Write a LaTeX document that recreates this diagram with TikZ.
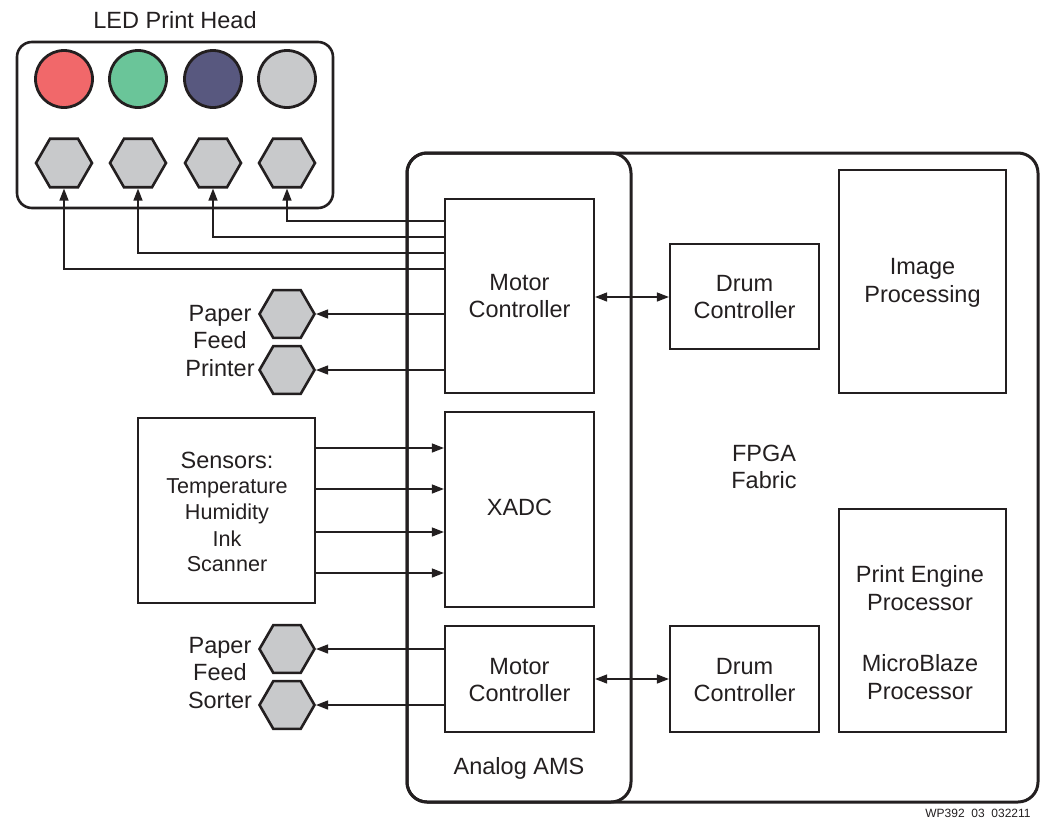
\documentclass[tikz,border=0pt]{standalone}
\usepackage{fontspec}
\setmainfont{Liberation Sans}
\usetikzlibrary{shapes.geometric,arrows.meta}
\definecolor{ln}{HTML}{231F20}
\definecolor{ledred}{HTML}{F1686A}
\definecolor{ledgreen}{HTML}{6AC599}
\definecolor{ledblue}{HTML}{58587F}
\definecolor{ledgray}{HTML}{C8C9CB}
\begin{document}
\begin{tikzpicture}[x=1pt,y=-1pt,
  txt/.style={align=center,text=ln,font=\fontsize{23.5}{27.5}\selectfont,inner sep=0pt},
  box/.style={draw=ln,line width=2.2pt,inner sep=0pt},
  frame/.style={draw=ln,line width=3pt,rounded corners=20pt},
  led/.style={circle,draw=ln,line width=2.8pt,minimum size=57pt,inner sep=0pt},
  hexa/.style={regular polygon,regular polygon sides=6,draw=ln,line width=2.6pt,fill=ledgray,minimum size=56pt,inner sep=0pt},
  conn/.style={draw=ln,line width=1.3pt},
  arr/.style={conn,-{Triangle[length=12pt,width=9pt]}},
  darr/.style={conn,{Triangle[length=12pt,width=9pt]}-{Triangle[length=12pt,width=9pt]}}
]
\useasboundingbox (0,0) rectangle (1042,825);

% LED print head
\node[txt] (ledlabel) at (175,20) {LED Print Head};
\draw[frame,line width=2.6pt,rounded corners=15pt] (17,42) rectangle (333,208);
\node[led,fill=ledred] (c1) at (64,79) {};
\node[led,fill=ledgreen] (c2) at (138,79) {};
\node[led,fill=ledblue] (c3) at (213,79) {};
\node[led,fill=ledgray] (c4) at (287,79) {};
\node[hexa] (h1) at (64,163) {};
\node[hexa] (h2) at (138,163) {};
\node[hexa] (h3) at (213,163) {};
\node[hexa] (h4) at (287,163) {};

% FPGA frame and analog frame
\draw[frame] (407,153) rectangle (1038,802);
\node[txt] (fpga) at (764,467) {FPGA\\Fabric};
\draw[frame] (407,153) rectangle (631,802);
\node[txt] (ams) at (519,768) {Analog AMS};

% blocks
\node[box,minimum width=149pt,minimum height=194pt] (mc1) at (519.5,296) {};
\node[txt] at (mc1.center) {Motor\\Controller};
\node[box,minimum width=149pt,minimum height=195pt] (xadc) at (519.5,509.5) {};
\node[txt] at (519.5,507) {XADC};
\node[box,minimum width=149pt,minimum height=106pt] (mc2) at (519.5,679) {};
\node[txt] at (519.5,680) {Motor\\Controller};
\node[box,minimum width=149pt,minimum height=105pt] (dc1) at (744.5,296.5) {};
\node[txt] at (744.5,297) {Drum\\Controller};
\node[box,minimum width=149pt,minimum height=106pt] (dc2) at (744.5,679) {};
\node[txt] at (744.5,680) {Drum\\Controller};
\node[box,minimum width=167pt,minimum height=223pt] (ip) at (922.5,281.5) {};
\node[txt] at (922.5,283) {Image\\Processing};
\node[box,minimum width=167pt,minimum height=223pt] (pe) at (922.5,620.5) {};
\node[txt,font=\fontsize{23.5}{28}\selectfont] at (920,633) {Print Engine\\Processor\\[33pt]MicroBlaze\\Processor};

% sensors
\node[box,minimum width=177pt,minimum height=185pt] (sens) at (226.5,510.5) {};
\node[txt] (senstxt) at (227,512) {Sensors:\\[-3pt]{\fontsize{21.6}{25}\selectfont Temperature}\\[-1pt]{\fontsize{21.6}{25}\selectfont Humidity}\\[-1pt]{\fontsize{21.6}{25}\selectfont Ink}\\[-2pt]{\fontsize{21.6}{25}\selectfont Scanner}};

% paper feed printer / sorter
\node[hexa,minimum size=55pt] (pf1) at (287,314) {};
\node[hexa,minimum size=55pt] (pf2) at (287,370) {};
\node[txt] at (220,341) {Paper\\Feed\\Printer};
\node[hexa,minimum size=55pt] (ps1) at (287,649) {};
\node[hexa,minimum size=55pt] (ps2) at (287,705) {};
\node[txt] at (220,673) {Paper\\Feed\\Sorter};

% LED connectors
\coordinate (k4) at (445,221);
\coordinate (k3) at (445,237);
\coordinate (k2) at (445,253);
\coordinate (k1) at (445,269);
\draw[arr] (k4) -| (h4.south);
\draw[arr] (k3) -| (h3.south);
\draw[arr] (k2) -| (h2.south);
\draw[arr] (k1) -| (h1.south);

% paper feed arrows
\draw[arr] (mc1.west |- pf1) -- (pf1.east);
\draw[arr] (mc1.west |- pf2) -- (pf2.east);
\draw[arr] (mc2.west |- ps1) -- (ps1.east);
\draw[arr] (mc2.west |- ps2) -- (ps2.east);

% sensor arrows
\foreach \yy in {448,489,532,573}{
  \draw[arr] (sens.east |- 0,\yy) -- (xadc.west |- 0,\yy);
}

% motor <-> drum
\draw[darr] (mc1.east |- 0,297) -- (dc1.west |- 0,297);
\draw[darr] (mc2.east |- 0,679) -- (dc2.west |- 0,679);

\node[txt,font=\fontsize{12}{14}\selectfont] (wp) at (978,813) {WP392\ \ 03\ \ 032211};
\end{tikzpicture}
\end{document}
